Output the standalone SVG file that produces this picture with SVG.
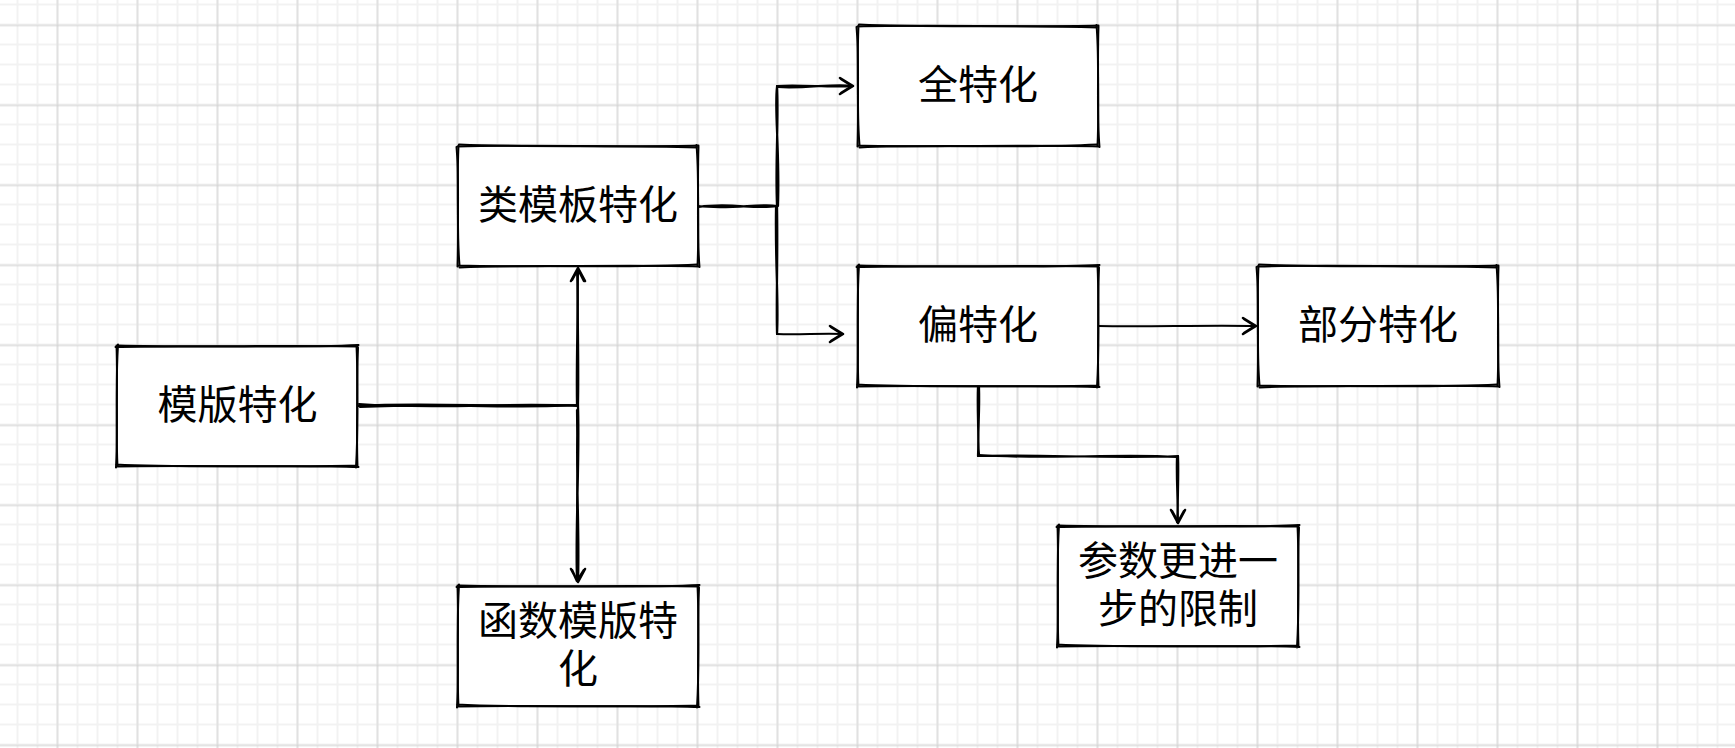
<svg xmlns="http://www.w3.org/2000/svg" xmlns:xlink="http://www.w3.org/1999/xlink" width="1735" height="748" viewBox="0 0 1735 748">
<style>
.ink{fill:none;stroke:#000;stroke-width:2;stroke-linecap:round;stroke-linejoin:round}
.wire{fill:none;stroke:#000;stroke-width:2.2;stroke-linecap:round;stroke-linejoin:round}
.head{fill:none;stroke:#000;stroke-width:2.6;stroke-linecap:round;stroke-linejoin:round}
.fillw{fill:#fff;stroke:none}
.lbl{font-family:"Noto Sans CJK SC","Noto Sans",sans-serif;font-size:40px;fill:#000;text-anchor:middle}
</style>
<defs>
<pattern id="minor" patternUnits="userSpaceOnUse" x="7.5" y="-5.5" width="20" height="20">
<path d="M10 0V20M0 10H20" stroke="#f2f2f2" stroke-width="2" fill="none"/>
</pattern>
<pattern id="major" patternUnits="userSpaceOnUse" x="17.5" y="-14.5" width="80" height="80">
<path d="M40 0V80M0 40H80" stroke="#cfcfcf" stroke-width="1" fill="none"/>
</pattern>
<g id="boxA">
<rect class="fillw" x="0" y="0" width="240" height="120"/>
<path class="ink" d="M0.5,-0.5 C80,1.5 160,-1 240.5,0.5 M239.5,-0.5 C241.5,40 239,80 240.5,120.5 M240.5,119.5 C160,121.5 80,119 -0.5,120.5 M0.5,120.5 C-1.5,80 1,40 -0.5,-0.5"/>
<path class="ink" d="M-1.5,1 C60,-1 180,2.5 241.5,-1 M241,1.5 C239,50 242,70 239,121.5 M241.5,121 C180,118.5 70,122.5 -1,118.5 M-1,121.5 C1.5,70 -2,50 1,-1.5"/>
</g>
<g id="boxB">
<rect class="fillw" x="0" y="0" width="240" height="120"/>
<path class="ink" d="M-0.5,0.5 C70,-1.5 170,1.5 240.5,-0.5 M240.5,0.5 C239,45 241.5,75 239.5,120.5 M240.5,120.5 C170,118.5 70,121.5 0.5,119.5 M-0.5,120.5 C1,75 -1.5,45 0.5,-0.5"/>
<path class="ink" d="M1,-1.5 C80,2 160,-1.5 239,1.5 M238.5,-1 C242,40 238,80 241.5,121 M239,118.5 C160,122.5 80,118 1.5,121.5 M1.5,119 C-2,80 2,40 -1.5,1"/>
</g>
</defs>
<rect x="0" y="0" width="1735" height="748" fill="#fff"/>
<rect x="0" y="0" width="1735" height="748" fill="url(#minor)"/>
<rect x="0" y="0" width="1735" height="748" fill="url(#major)"/>

<g id="connectors">
<path class="wire" d="M358,406 C430,402 500,408 578,405 M578,405 C579,360 577,310 578,270"/>
<path class="wire" d="M359,404 C440,410 510,402 577,406 M577,406 C576,350 579,300 577,271"/>
<path class="wire" d="M360,407 C450,403 520,409 578,405"/>
<path class="head" d="M571,281 L578,268 L585,281 M572,280 L578,269 L584,281"/>
<path class="wire" d="M578,405 C580,460 575,530 577,580 M578,407 C575,470 580,530 578,581 M577,410 C578,480 576,540 578,579"/>
<path class="head" d="M571,569 L578,582 L585,569 M572,570 L577,581 L584,570"/>

<path class="wire" d="M698,206 C730,210 760,203 777,206 M699,207 C730,202 755,210 777,206"/>
<path class="wire" d="M777,206 C775,160 779,120 777,86 M778,206 C780,150 774,110 777,87"/>
<path class="wire" d="M777,86 C800,84 830,88 853,86 M778,87 C805,89 835,83 852,86"/>
<path class="head" d="M840,78 L853,86 L840,94 M841,79 L852,86 L841,93"/>
<path class="wire" d="M777,206 C778,260 776,300 777,333 M776,207 C775,270 779,300 777,334"/>
<path class="wire" d="M777,334 C800,335 820,333 843,334"/>
<path class="head" d="M830,326 L843,334 L830,342 M831,327 L842,334 L831,341"/>

<path class="wire" d="M1098,326 C1150,327 1200,325 1256,326"/>
<path class="head" d="M1243,318 L1256,326 L1243,334 M1244,319 L1255,326 L1244,333"/>

<path class="wire" d="M978,386 C977,410 979,430 978,456 M979,387 C980,415 977,435 979,455"/>
<path class="wire" d="M978,456 C1040,454 1110,459 1178,456 M979,455 C1050,460 1120,453 1177,457"/>
<path class="wire" d="M1178,456 C1179,480 1177,500 1178,523 M1177,457 C1176,485 1179,505 1177,522"/>
<path class="head" d="M1171,510 L1178,523 L1185,510 M1172,511 L1178,522 L1184,511"/>
</g>

<g id="node-mubantehua">
<use xlink:href="#boxA" href="#boxA" x="117" y="346"/>
<text class="lbl" x="237.5" y="419">模版特化</text>
</g>
<g id="node-leimuban">
<use xlink:href="#boxB" href="#boxB" x="458" y="146"/>
<text class="lbl" x="578" y="219">类模板特化</text>
</g>
<g id="node-hanshu">
<use xlink:href="#boxA" href="#boxA" x="458" y="586"/>
<text class="lbl" x="578" y="635">函数模版特</text>
<text class="lbl" x="578" y="683">化</text>
</g>
<g id="node-quantehua">
<use xlink:href="#boxB" href="#boxB" x="858" y="26"/>
<text class="lbl" x="978" y="99">全特化</text>
</g>
<g id="node-piantehua">
<use xlink:href="#boxA" href="#boxA" x="858" y="266"/>
<text class="lbl" x="978" y="339">偏特化</text>
</g>
<g id="node-bufen">
<use xlink:href="#boxB" href="#boxB" x="1258" y="266"/>
<text class="lbl" x="1378" y="339">部分特化</text>
</g>
<g id="node-canshu">
<use xlink:href="#boxA" href="#boxA" x="1058" y="526"/>
<text class="lbl" x="1178" y="575">参数更进一</text>
<text class="lbl" x="1178" y="623">步的限制</text>
</g>
</svg>
